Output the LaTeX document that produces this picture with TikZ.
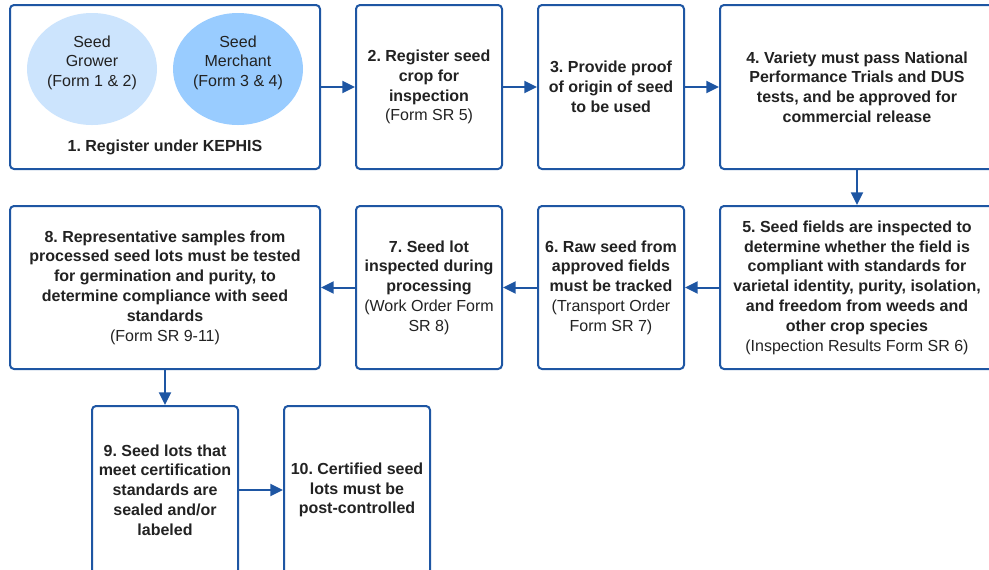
\documentclass[tikz,border=0pt]{standalone}
\usepackage{fontspec}
\setmainfont{Liberation Sans}
\usetikzlibrary{arrows.meta}
\usetikzlibrary{shapes.geometric}
\tikzset{>={Triangle[length=9.5pt,width=9pt]}}
\frenchspacing
\definecolor{stepblue}{RGB}{30,86,163}
\definecolor{growerblue}{RGB}{204,228,253}
\definecolor{merchantblue}{RGB}{153,204,255}
\definecolor{inkgrey}{RGB}{34,34,34}
\tikzstyle{stepbox}=[draw=stepblue,line width=1.5pt,rounded corners=3pt,fill=white,align=center,text=inkgrey,font=\fontsize{12}{14.85}\selectfont,inner sep=2pt]
\tikzstyle{narrowbox}=[stepbox,minimum width=109.5pt,minimum height=123pt]
\tikzstyle{wideline}=[stepbox,minimum width=232.5pt,minimum height=123pt]
\tikzstyle{regoval}=[ellipse,minimum width=97.5pt,minimum height=84pt,inner sep=0pt,align=center,text=inkgrey,text depth=12pt,font=\fontsize{12}{14.85}\selectfont]
\tikzstyle{flow}=[draw=stepblue,line width=1.5pt,->]

\begin{document}
\begin{tikzpicture}[x=0.75pt,y=-0.75pt]
  \clip (0,0) rectangle (989,569);
  \useasboundingbox (0,0) rectangle (989,569);

  % top row
  \node[wideline] (reg) at (165,87) {};
  \node[regoval,fill=growerblue] (grower) at (92,69) {Seed\\Grower\\(Form 1 \& 2)};
  \node[regoval,fill=merchantblue] (merchant) at (238,69) {Seed\\Merchant\\(Form 3 \& 4)};
  \node[text=inkgrey,font=\fontsize{12}{14.85}\selectfont\bfseries] (reglabel) at (165,147) {1. Register under KEPHIS};
  \node[narrowbox] (crop) at (429,87) {\textbf{2. Register seed}\\\textbf{crop for}\\\textbf{inspection}\\(Form SR 5)};
  \node[narrowbox] (origin) at (611,87) {\textbf{3. Provide proof}\\\textbf{of origin of seed}\\\textbf{to be used}};
  \node[stepbox,minimum width=205.5pt,minimum height=123pt] (variety) at (857,87) {\textbf{4. Variety must pass National}\\\textbf{Performance Trials and DUS}\\\textbf{tests, and be approved for}\\\textbf{commercial release}};

  % middle row
  \node[stepbox,minimum width=205.5pt,minimum height=122.25pt] (fields) at (857,287.5) {\textbf{5. Seed fields are inspected to}\\\textbf{determine whether the field is}\\\textbf{compliant with standards for}\\\textbf{varietal identity, purity, isolation,}\\\textbf{and freedom from weeds and}\\\textbf{other crop species}\\(Inspection Results Form SR 6)};
  \node[narrowbox,minimum height=122.25pt] (raw) at (611,287.5) {\textbf{6. Raw seed from}\\\textbf{approved fields}\\\textbf{must be tracked}\\(Transport Order\\Form SR 7)};
  \node[narrowbox,minimum height=122.25pt] (lot) at (429,287.5) {\textbf{7. Seed lot}\\\textbf{inspected during}\\\textbf{processing}\\(Work Order Form\\SR 8)};
  \node[wideline,minimum height=122.25pt] (samples) at (165,287.5) {\textbf{8. Representative samples from}\\\textbf{processed seed lots must be tested}\\\textbf{for germination and purity, to}\\\textbf{determine compliance with seed}\\\textbf{standards}\\(Form SR 9-11)};

  % bottom row
  \node[narrowbox,minimum height=126pt] (sealed) at (165,490) {\textbf{9. Seed lots that}\\\textbf{meet certification}\\\textbf{standards are}\\\textbf{sealed and/or}\\\textbf{labeled}};
  \node[narrowbox,minimum height=126pt] (certified) at (357,490) {\textbf{10. Certified seed}\\\textbf{lots must be}\\\textbf{post-controlled}};

  \draw[flow] (reg) -- (crop);
  \draw[flow] (crop) -- (origin);
  \draw[flow] (origin) -- (variety);
  \draw[flow] (variety) -- (fields);
  \draw[flow] (fields) -- (raw);
  \draw[flow] (raw) -- (lot);
  \draw[flow] (lot) -- (samples);
  \draw[flow] (samples) -- (sealed);
  \draw[flow] (sealed) -- (certified);
\end{tikzpicture}
\end{document}
